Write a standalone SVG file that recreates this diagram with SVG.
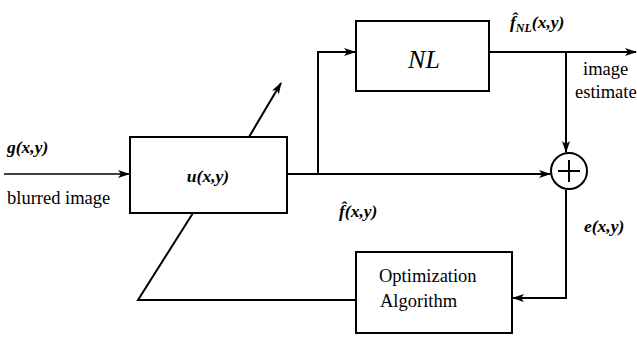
<svg xmlns="http://www.w3.org/2000/svg" width="637" height="341" viewBox="0 0 637 341">
<style>
.box{fill:#fff;stroke:#000;stroke-width:2}
.ln{fill:none;stroke:#000;stroke-width:2}
text{font-family:'Liberation Serif','Times New Roman',serif;fill:#000;font-size:18.5px}
.m{font-style:italic;font-weight:bold;font-size:17.5px}
.nl{font-style:italic;font-size:26px}
.sub{font-size:12px}
</style>
<defs>
<marker id="ah" markerWidth="12" markerHeight="8" refX="11" refY="4" orient="auto" markerUnits="userSpaceOnUse">
<path d="M0,0 L12,4 L0,8 L3,4 Z" fill="#000"/>
</marker>
</defs>
<rect width="637" height="341" fill="#fff"/>
<g id="connectors">
<line x1="4" y1="174" x2="129" y2="174" stroke="#000" stroke-width="1.3" marker-end="url(#ah)"/>
<polyline class="ln" points="287,174 318,174 318,52 355,52" marker-end="url(#ah)"/>
<line class="ln" x1="318" y1="174" x2="550" y2="174" marker-end="url(#ah)"/>
<line class="ln" x1="489" y1="52" x2="636" y2="52" marker-end="url(#ah)"/>
<line class="ln" x1="566" y1="52" x2="566" y2="152" marker-end="url(#ah)"/>
<polyline class="ln" points="566,190 566,298 513,298" marker-end="url(#ah)"/>
<polyline class="ln" points="356,300 138,300 193,213"/>
<line class="ln" x1="249" y1="137" x2="281" y2="83" marker-end="url(#ah)"/>
</g>
<g id="u">
<rect class="box" x="130" y="137" width="157" height="76"/>
<text class="m" x="208" y="182" text-anchor="middle">u(x,y)</text>
</g>
<g id="nl">
<rect class="box" x="356" y="21" width="133" height="70"/>
<text class="nl" x="424" y="68" text-anchor="middle">NL</text>
</g>
<g id="sum">
<circle cx="569" cy="171" r="18" fill="#fff" stroke="#000" stroke-width="2"/>
<path d="M569,160 V182 M558,171 H580" stroke="#000" stroke-width="2"/>
</g>
<g id="opt">
<rect class="box" x="356" y="252" width="156" height="81"/>
<text x="379" y="282">Optimization</text>
<text x="380" y="307">Algorithm</text>
</g>
<g id="labels">
<text class="m" x="7" y="153">g(x,y)</text>
<text x="7" y="204">blurred image</text>
<text class="m" x="339" y="217">f&#770;(x,y)</text>
<text class="m" x="510" y="28">f&#770;<tspan class="sub" dy="4">NL</tspan><tspan dy="-4">(x,y)</tspan></text>
<text x="583" y="75">image</text>
<text x="575" y="98">estimate</text>
<text class="m" x="584" y="232">e(x,y)</text>
</g>
</svg>
